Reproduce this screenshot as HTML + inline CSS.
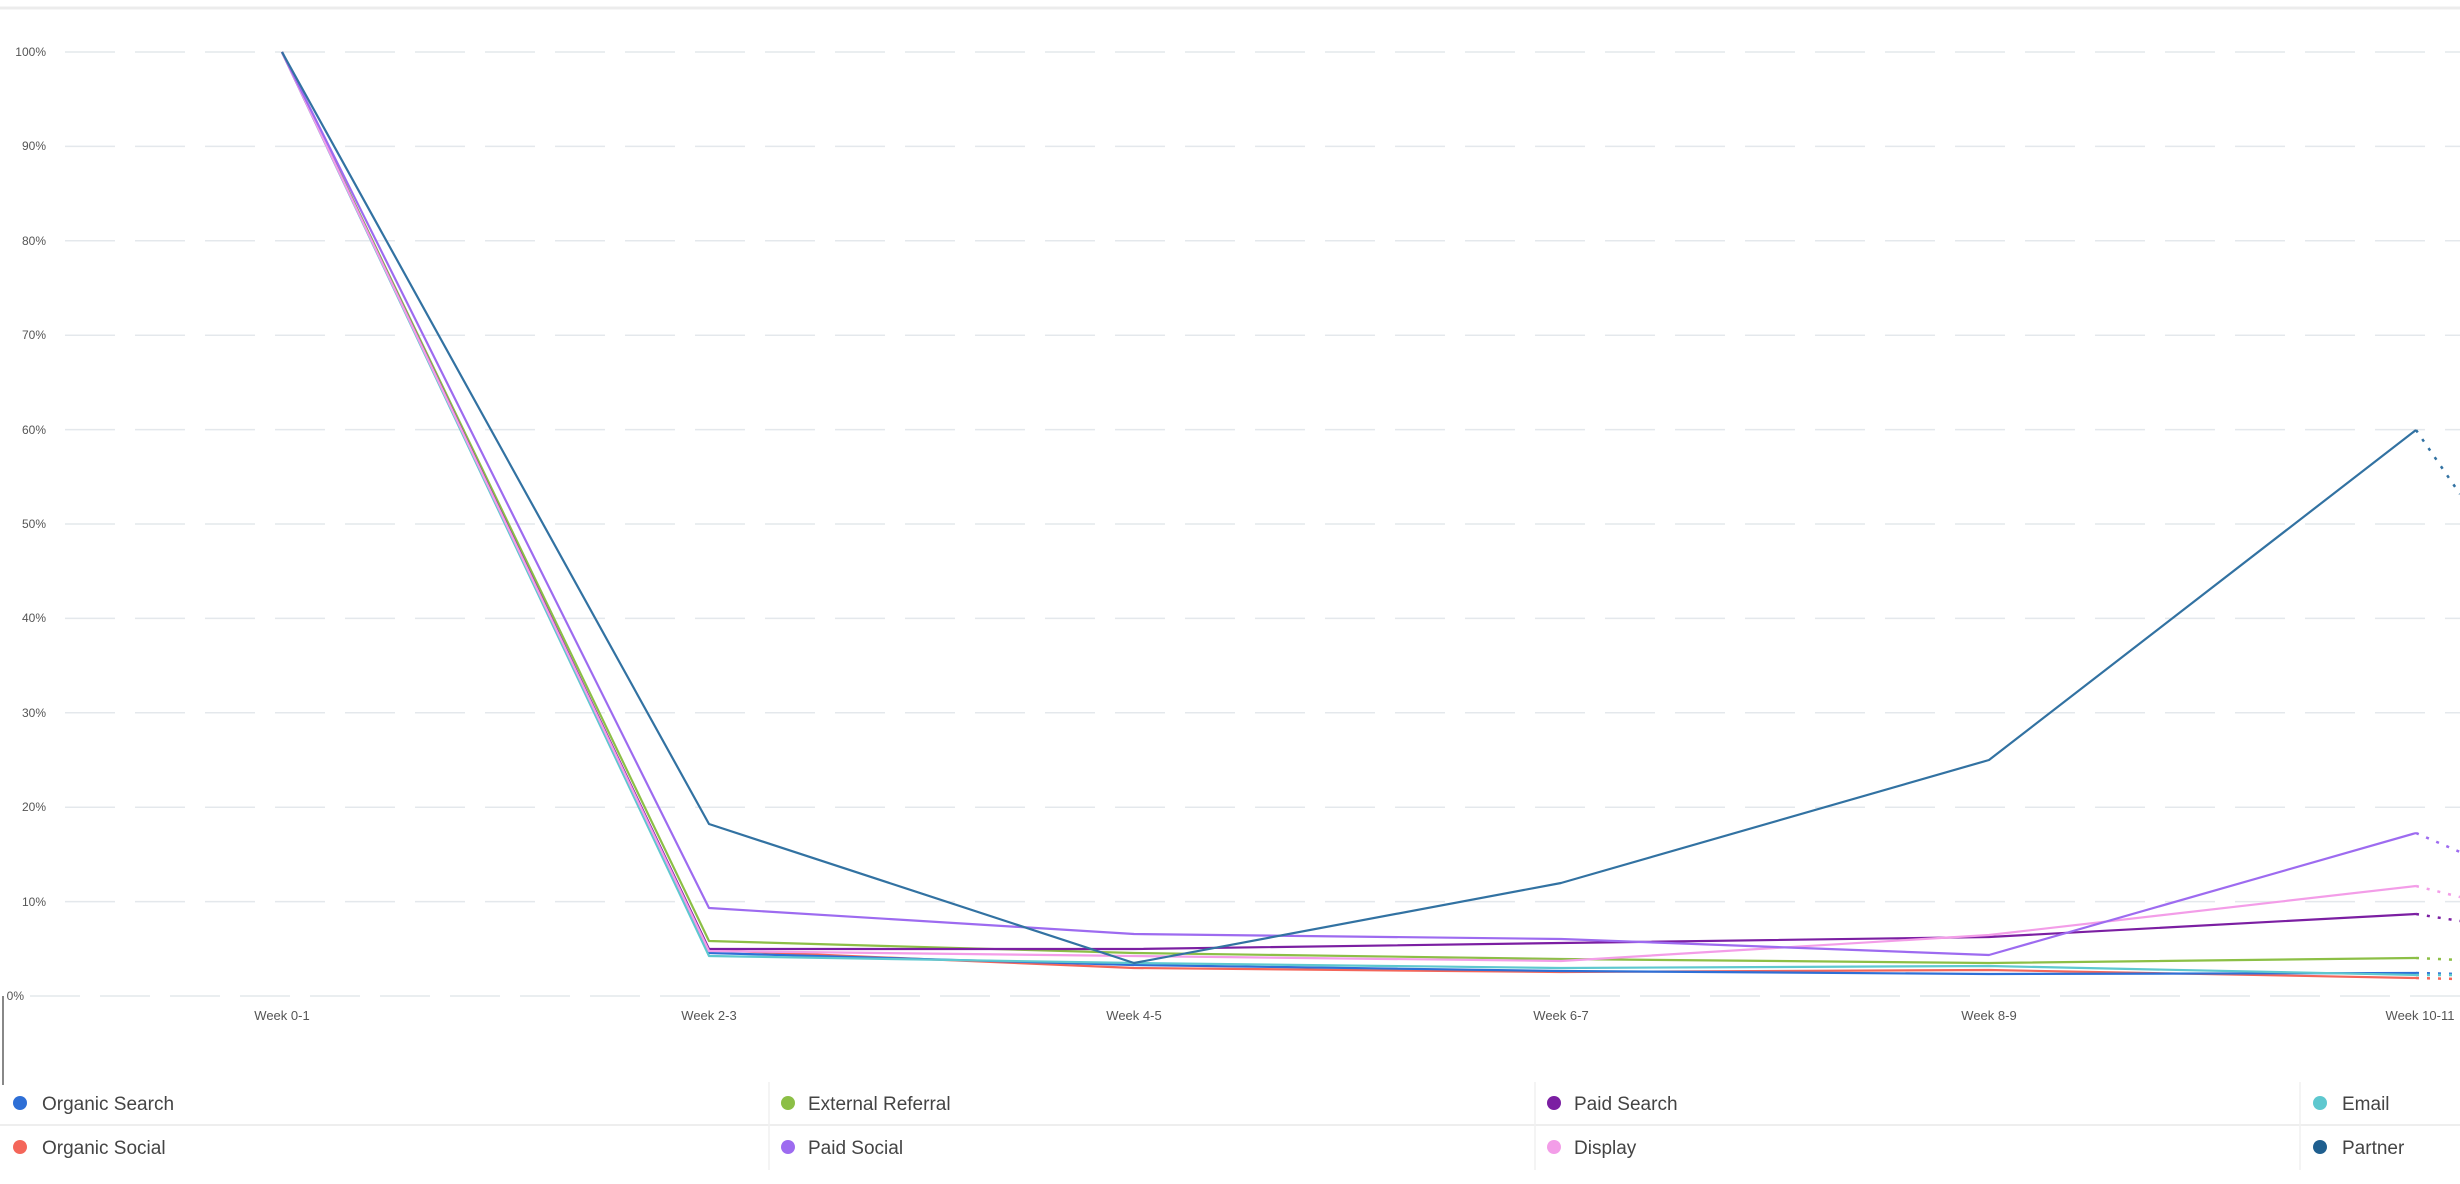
<!DOCTYPE html>
<html><head><meta charset="utf-8"><style>
html,body{margin:0;padding:0;background:#fff;width:2460px;height:1184px;overflow:hidden}
svg{display:block}
text{font-family:"Liberation Sans",sans-serif}
</style></head><body>
<svg width="2460" height="1184" viewBox="0 0 2460 1184" xmlns="http://www.w3.org/2000/svg">
<rect width="2460" height="1184" fill="#fff"/>
<line x1="0" y1="8" x2="2460" y2="8" stroke="#ececec" stroke-width="3"/>
<g stroke="#e4e8ec" stroke-width="1.5" stroke-dasharray="50,20">
<line x1="65" y1="52" x2="2460" y2="52"/>
<line x1="65" y1="146.4" x2="2460" y2="146.4"/>
<line x1="65" y1="240.8" x2="2460" y2="240.8"/>
<line x1="65" y1="335.2" x2="2460" y2="335.2"/>
<line x1="65" y1="429.6" x2="2460" y2="429.6"/>
<line x1="65" y1="524" x2="2460" y2="524"/>
<line x1="65" y1="618.4" x2="2460" y2="618.4"/>
<line x1="65" y1="712.8" x2="2460" y2="712.8"/>
<line x1="65" y1="807.2" x2="2460" y2="807.2"/>
<line x1="65" y1="901.6" x2="2460" y2="901.6"/>
<line x1="30" y1="996" x2="2460" y2="996"/>
</g>
<g font-size="12" fill="#555" text-anchor="end">
<text x="46" y="56">100%</text><text x="46" y="150">90%</text><text x="46" y="245">80%</text>
<text x="46" y="339">70%</text><text x="46" y="434">60%</text><text x="46" y="528">50%</text>
<text x="46" y="622">40%</text><text x="46" y="717">30%</text><text x="46" y="811">20%</text>
<text x="46" y="906">10%</text><text x="24" y="1000">0%</text>
</g>
<line x1="3" y1="996" x2="3" y2="1085" stroke="#888" stroke-width="2"/>
<g font-size="13" fill="#555" text-anchor="middle">
<text x="282" y="1020">Week 0-1</text><text x="709" y="1020">Week 2-3</text><text x="1134" y="1020">Week 4-5</text>
<text x="1561" y="1020">Week 6-7</text><text x="1989" y="1020">Week 8-9</text><text x="2420" y="1020">Week 10-11</text>
</g>
<g fill="none" stroke-width="2.2" stroke-linejoin="round">
<polyline stroke="#f4665a" points="282,52 709,950 1134,968 1561,972 1989,970 2416,978"/>
<polyline stroke="#2e6fd6" points="282,52 709,953 1134,965 1561,971 1989,974 2416,973"/>
<polyline stroke="#5ec8cf" points="282,52 709,956 1134,963 1561,968 1989,966 2416,975"/>
<polyline stroke="#8cbf46" points="282,52 709,941 1134,953 1561,959 1989,963 2416,958"/>
<polyline stroke="#7b1fa2" points="282,52 709,949 1134,949 1561,943 1989,937 2416,914"/>
<polyline stroke="#f39de8" points="282,52 709,951 1134,956 1561,961 1989,935 2416,886"/>
<polyline stroke="#9d6bf0" points="282,52 709,908 1134,934 1561,939 1989,955 2416,833"/>
<polyline stroke="#3272a2" points="282,52 709,824 1134,963 1561,883 1989,760 2416,430"/>
</g>
<g fill="none" stroke-width="2.5" stroke-dasharray="3,8">
<line x1="2416" y1="978" x2="2460" y2="979" stroke="#f4665a"/>
<line x1="2416" y1="973" x2="2460" y2="974" stroke="#2e6fd6"/>
<line x1="2416" y1="975" x2="2460" y2="975" stroke="#5ec8cf"/>
<line x1="2416" y1="958" x2="2460" y2="960" stroke="#8cbf46"/>
<line x1="2416" y1="914" x2="2460" y2="921" stroke="#7b1fa2"/>
<line x1="2416" y1="886" x2="2460" y2="897" stroke="#f39de8"/>
<line x1="2416" y1="833" x2="2460" y2="852" stroke="#9d6bf0"/>
<line x1="2416" y1="430" x2="2460" y2="494" stroke="#3272a2"/>
</g>
<line x1="0" y1="1125" x2="2460" y2="1125" stroke="#eee" stroke-width="2"/>
<g stroke="#f0f0f0" stroke-width="1.5">
<line x1="769" y1="1082" x2="769" y2="1170"/><line x1="1535" y1="1082" x2="1535" y2="1170"/><line x1="2300" y1="1082" x2="2300" y2="1170"/>
</g>
<g font-size="19" fill="#444">
<circle cx="20" cy="1103" r="7" fill="#2e6fd6"/><text x="42" y="1110">Organic Search</text>
<circle cx="20" cy="1147" r="7" fill="#f4665a"/><text x="42" y="1154">Organic Social</text>
<circle cx="788" cy="1103" r="7" fill="#8cbf46"/><text x="808" y="1110">External Referral</text>
<circle cx="788" cy="1147" r="7" fill="#9d6bf0"/><text x="808" y="1154">Paid Social</text>
<circle cx="1554" cy="1103" r="7" fill="#7b1fa2"/><text x="1574" y="1110">Paid Search</text>
<circle cx="1554" cy="1147" r="7" fill="#f39de8"/><text x="1574" y="1154">Display</text>
<circle cx="2320" cy="1103" r="7" fill="#5ec8cf"/><text x="2342" y="1110">Email</text>
<circle cx="2320" cy="1147" r="7" fill="#1f5f8f"/><text x="2342" y="1154">Partner</text>
</g>
</svg>
</body></html>
